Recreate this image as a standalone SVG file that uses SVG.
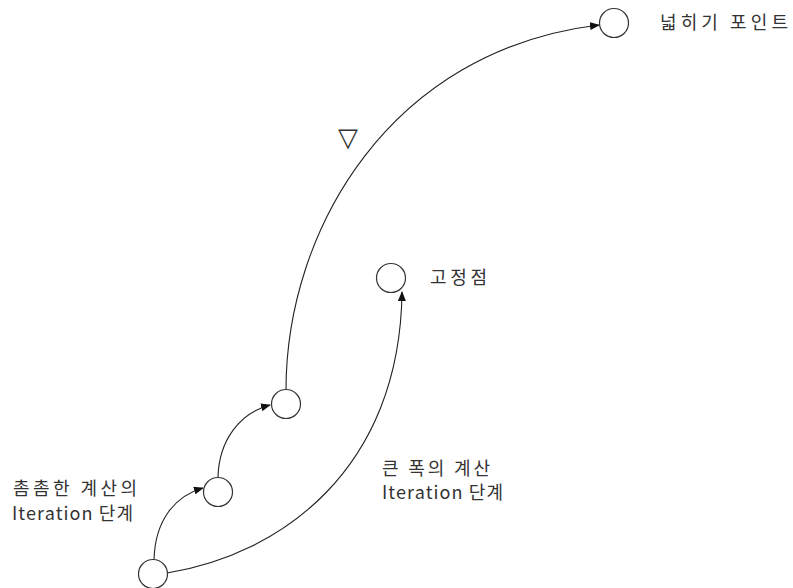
<svg xmlns="http://www.w3.org/2000/svg" width="793" height="588" viewBox="0 0 793 588">
<style>
.node{fill:#fff;stroke:#333;stroke-width:1.2}
.edge{fill:none;stroke:#222;stroke-width:1.1}
.lbl{font-family:"Noto Sans CJK KR","Liberation Sans",sans-serif;font-size:18px;fill:#333}
</style>
<defs>
<marker id="arr" markerWidth="10" markerHeight="8" refX="9" refY="4" orient="auto" markerUnits="userSpaceOnUse">
<path d="M0,0 L10,4 L0,8 Z" fill="#111"/>
</marker>
</defs>
<rect width="793" height="588" fill="#fff"/>
<g id="connectors">
<path class="edge" d="M154,560 C155,520 175,496 203,488" marker-end="url(#arr)"/>
<path class="edge" d="M218,477 C219,440 240,413 270,405" marker-end="url(#arr)"/>
<path class="edge" d="M286,390 C286,230 390,50 599,25" marker-end="url(#arr)"/>
<path class="edge" d="M167,573 C280,555 400,470 402,292" marker-end="url(#arr)"/>
</g>
<g id="n1"><circle class="node" cx="153" cy="574" r="14.5"/></g>
<g id="n2"><circle class="node" cx="218" cy="492" r="14.5"/></g>
<g id="n3"><circle class="node" cx="286" cy="404" r="14.5"/></g>
<g id="n4"><circle class="node" cx="391" cy="278" r="14.5"/>
<text class="lbl" x="430" y="284" textLength="57" lengthAdjust="spacing">고정점</text></g>
<g id="n5"><circle class="node" cx="614" cy="23" r="14.5"/>
<text class="lbl" x="660" y="29" textLength="128" lengthAdjust="spacing">넓히기 포인트</text></g>
<g id="labels">
<text class="lbl" x="13" y="495" textLength="124" lengthAdjust="spacing">촘촘한 계산의</text>
<text class="lbl" x="12" y="520" textLength="121" lengthAdjust="spacing">Iteration 단계</text>
<text class="lbl" x="382" y="475" textLength="108" lengthAdjust="spacing">큰 폭의 계산</text>
<text class="lbl" x="382" y="499" textLength="121" lengthAdjust="spacing">Iteration 단계</text>
<text x="348" y="146" text-anchor="middle" font-family="DejaVu Sans, sans-serif" font-size="26" fill="#333">▽</text>
</g>
</svg>
